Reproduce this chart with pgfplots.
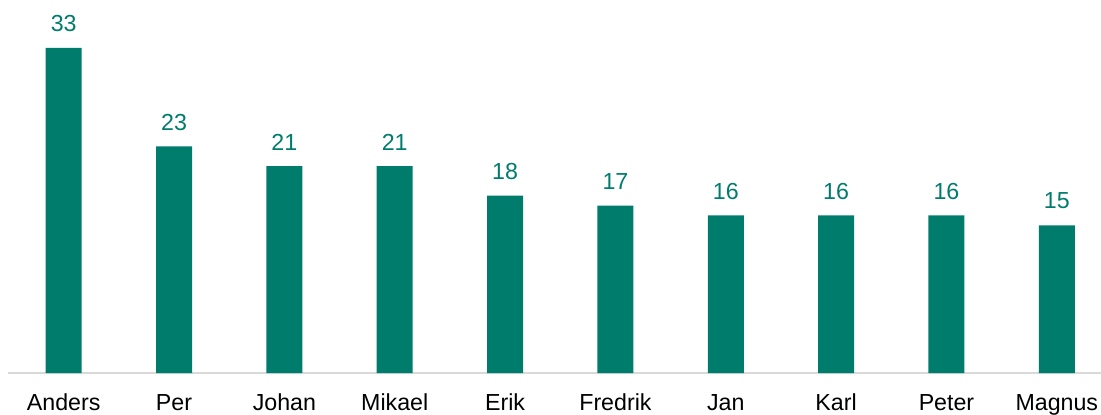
\documentclass[border=0pt]{standalone}
\usepackage{pgfplots}
\pgfplotsset{compat=1.18}
\usepackage{fontspec}
\setmainfont{Liberation Sans}
\definecolor{teal1}{RGB}{0,124,108}
\begin{document}
\begin{tikzpicture}
\useasboundingbox (-4.25pt,-20.5pt) rectangle (546.25pt,186.5pt);
\begin{axis}[
  at={(0,0)}, anchor=south west,
  scale only axis,
  width=551.75pt, height=186.5pt,
  xmin=-0.5, xmax=9.5, ymin=0, ymax=37.87,
  axis x line=bottom, axis y line=none,
  axis line style={draw=black!15, line width=0.8pt, -},
  xtick=data,
  xticklabels={Anders,Per,Johan,Mikael,Erik,Fredrik,Jan,Karl,Peter,Magnus},
  major tick length=0pt,
  xticklabel style={font=\fontsize{11.6}{14}\selectfont, text=black, yshift=-7pt},
  ytick=\empty,
  /pgf/number format/assume math mode=true,
  nodes near coords,
  nodes near coords style={font=\fontsize{11.6}{14}\selectfont, text=teal1, yshift=4.5pt},
  clip=false,
]
\addplot[ybar, bar width=18pt, fill=teal1, draw=none] coordinates {
(0,33) (1,23) (2,21) (3,21) (4,18) (5,17) (6,16) (7,16) (8,16) (9,15)
};
\end{axis}
\end{tikzpicture}
\end{document}
